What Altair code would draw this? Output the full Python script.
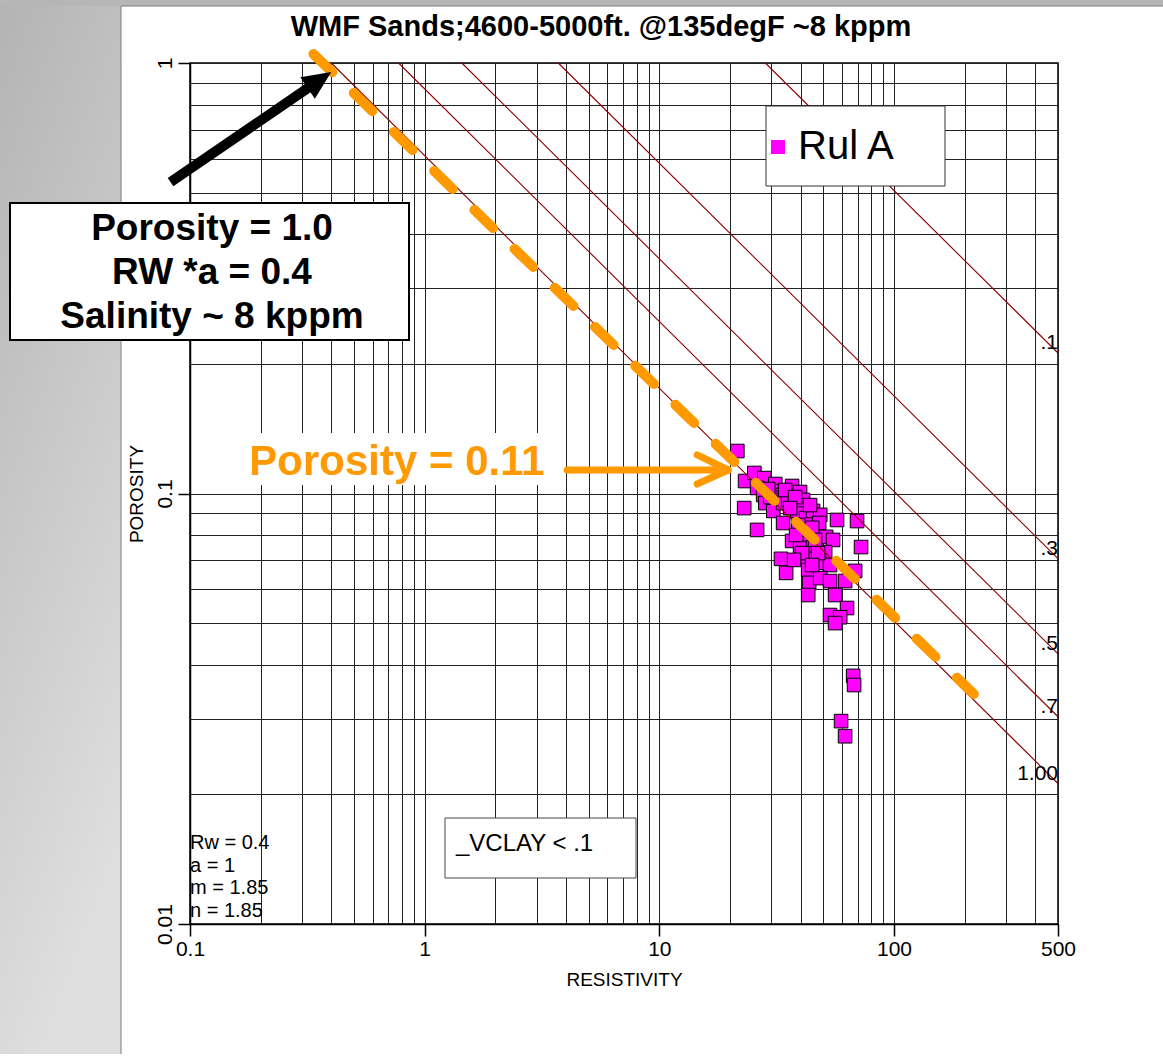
import altair as alt
import pandas as pd

FONT = "Liberation Sans"
ORANGE = "#FF9900"
MAGENTA = "#FF00FF"
SW_RED = "#8B0000"
GRID = "#222222"

# Plot area placement inside the 1163 x 1057 page
OX, OY = 190, 63
PLOT_W, PLOT_H = 868, 861

# Samples from zone "Rul A" with VCLAY < 0.1: resistivity (ohm.m) and porosity (v/v)
resistivity = [21.5, 23.2, 23.0, 26.1, 25.4, 28.0, 26.1, 27.7, 28.3, 31.2,
               31.5, 32.7, 30.6, 33.7, 33.7, 35.4, 36.8, 38.7, 39.8, 41.0,
               42.2, 45.2, 48.5, 48.0, 57.2, 69.6, 51.4, 55.0, 36.8, 42.7,
               72.4, 39.8, 45.2, 50.9, 33.0, 42.7, 34.7, 48.0, 43.1, 53.4,
               68.3, 43.5, 48.5, 53.4, 61.9, 43.1, 56.1, 63.1, 53.4, 59.0,
               56.1, 67.0, 67.6, 59.5, 61.9, 29.7, 34.4, 37.9, 36.1, 39.1,
               41.4, 44.8, 38.3, 46.1, 40.6, 47.5, 43.9, 29.1, 37.5, 44.8]
porosity = [0.1255, 0.1069, 0.0925, 0.0823, 0.1116, 0.1086, 0.1030, 0.0992, 0.0950, 0.1052,
            0.1013, 0.0992, 0.0911, 0.0950, 0.0854, 0.0966, 0.1041, 0.0911, 0.1008, 0.0966,
            0.0877, 0.0911, 0.0892, 0.0854, 0.0868, 0.0863, 0.0793, 0.0780, 0.0776, 0.0780,
            0.0751, 0.0747, 0.0751, 0.0731, 0.0705, 0.0705, 0.0654, 0.0690, 0.0664, 0.0682,
            0.0661, 0.0620, 0.0636, 0.0626, 0.0626, 0.0581, 0.0581, 0.0542, 0.0522, 0.0516,
            0.0500, 0.0377, 0.0359, 0.0296, 0.0273, 0.0981, 0.1019, 0.0981, 0.0925, 0.0845,
            0.0823, 0.0832, 0.0801, 0.0780, 0.0727, 0.0727, 0.0940, 0.1024, 0.0701, 0.0682]
zone = "Rul A"

# Water-saturation lines (Rw = 0.4, a = 1, m = n = 1.85): end points on the frame
sw_labels = ["1.00", ".7", ".5", ".3", ".1"]
sw_rt_at_phi_1 = [0.40, 0.774, 1.44, 3.71, 28.3]          # where porosity = 1
sw_phi_at_rt_500 = [0.0212, 0.0303, 0.0424, 0.0706, 0.212]  # where resistivity = 500
RT_RIGHT = 500

# Hand-drawn water line through the samples
trend_rt = [0.336, 219.0]
trend_phi = [1.049, 0.0342]

# Annotation arrows (data units)
black_arrow_rt = [0.0826, 0.355]
black_arrow_phi = [0.529, 0.911]
black_tip = (0.40, 0.953)
orange_tip = (19.65, 0.1134)
orange_tail_rt = 4.05
orange_barb_rt = 14.5
orange_barb_phi = [0.1229, 0.1052]

# Grid / tick values
x_grid = [0.1, 0.2, 0.3, 0.4, 0.5, 0.6, 0.7, 0.8, 0.9,
          1, 2, 3, 4, 5, 6, 7, 8, 9,
          10, 20, 30, 40, 50, 60, 70, 80, 90,
          100, 200, 300, 400, 500]
y_grid = [0.01, 0.02, 0.03, 0.04, 0.05, 0.06, 0.07, 0.08, 0.09,
          0.1, 0.2, 0.3, 0.4, 0.5, 0.6, 0.7, 0.8, 0.9, 1]
x_major = "indexof([0.1, 1, 10, 100, 500], datum.value) >= 0"
y_major = "indexof([0.01, 0.1, 1], datum.value) >= 0"

xs = alt.Scale(type="log", domain=[0.1, 500], nice=False)
ys = alt.Scale(type="log", domain=[0.01, 1], nice=False)

x_axis = alt.Axis(
    values=x_grid, title="RESISTIVITY", grid=True, gridColor=GRID, gridWidth=1,
    domainColor="black", domainWidth=1.5, tickColor="black", tickWidth=1.5, tickSize=12,
    tickOpacity={"condition": {"test": x_major, "value": 1}, "value": 0},
    labelExpr=f"{x_major} ? format(datum.value, '~g') : ''",
    labelPadding=2, labelFontSize=21, labelFont=FONT, labelColor="black",
    labelOverlap=False, labelFlush=False,
    titleFont=FONT, titleFontSize=19, titleFontWeight="normal", titleColor="black",
    titlePadding=11,
)
y_axis = alt.Axis(
    values=y_grid, title="POROSITY", grid=True, gridColor=GRID, gridWidth=1,
    domainColor="black", domainWidth=1.5, tickColor="black", tickWidth=1.5, tickSize=12,
    tickOpacity={"condition": {"test": y_major, "value": 1}, "value": 0},
    labelExpr=f"{y_major} ? format(datum.value, '~g') : ''",
    labelAngle=270, labelAlign="center", labelBaseline="bottom", labelPadding=3,
    labelFontSize=21, labelFont=FONT, labelColor="black",
    labelOverlap=False, labelFlush=False,
    titleFont=FONT, titleFontSize=19, titleFontWeight="normal", titleColor="black",
    titlePadding=8,
)

# Every data layer uses the same fields, scales and axes so the axes merge cleanly
X = alt.X("rt:Q", scale=xs, axis=x_axis)
Y = alt.Y("phi:Q", scale=ys, axis=y_axis)

one = pd.DataFrame({"k": [0]})


def px(x):
    return alt.value(x - OX)


def py(y):
    return alt.value(y - OY)


# ---- page chrome -----------------------------------------------------------
side_panel = alt.Chart(one).mark_rect(
    fill=alt.LinearGradient(
        gradient="linear",
        stops=[alt.GradientStop(color="#b3b3b3", offset=0),
               alt.GradientStop(color="#dedede", offset=1)],
        x1=0, y1=0, x2=0.3, y2=1,
    )
).encode(x=px(0), x2=px(121), y=py(0), y2=py(1060))

top_strip = alt.Chart(one).mark_rect(fill="#b6b6b6").encode(
    x=px(0), x2=px(1170), y=py(0), y2=py(6))

page_edge = alt.Chart(one).mark_rect(
    fillOpacity=0, stroke="#7f7f7f", strokeWidth=1
).encode(x=px(121), x2=px(1200), y=py(6), y2=py(1100))

title = alt.Chart(one).mark_text(
    text="WMF Sands;4600-5000ft. @135degF ~8 kppm", font=FONT, fontSize=29,
    fontWeight="bold", color="black", align="center", baseline="middle",
).encode(x=px(601), y=py(27))

# ---- data layers -----------------------------------------------------------
pts = pd.DataFrame({"rt": resistivity, "phi": porosity, "zone": zone})
points = alt.Chart(pts).mark_square(
    size=185, stroke="black", strokeWidth=1, opacity=1, fillOpacity=1
).encode(
    x=X, y=Y,
    color=alt.Color(
        "zone:N",
        scale=alt.Scale(domain=[zone], range=[MAGENTA]),
        legend=alt.Legend(
            orient="none", legendX=568, legendY=64, title=None,
            labelFont=FONT, labelFontSize=40, labelColor="black", labelOffset=0,
            symbolType="square", symbolSize=196, symbolStrokeWidth=0,
            symbolOpacity=1, padding=0,
        ),
    ),
)

sw_rows = []
for lab, rt0, phi_r in zip(sw_labels, sw_rt_at_phi_1, sw_phi_at_rt_500):
    sw_rows.append({"sw": lab, "rt": rt0, "phi": 1.0})
    sw_rows.append({"sw": lab, "rt": RT_RIGHT, "phi": phi_r})
sw_df = pd.DataFrame(sw_rows)

sw_lines = alt.Chart(sw_df).mark_line(color=SW_RED, strokeWidth=1.1).encode(
    x=X, y=Y, detail="sw:N",
)

sw_end = pd.DataFrame({"sw": sw_labels, "rt": [RT_RIGHT] * 5, "phi": sw_phi_at_rt_500})
sw_text = alt.Chart(sw_end).mark_text(
    font=FONT, fontSize=21, color="black", align="right", baseline="bottom", dy=0
).encode(x=X, y=Y, text="sw:N")

trend = alt.Chart(pd.DataFrame({"rt": trend_rt, "phi": trend_phi})).mark_line(
    color=ORANGE, strokeWidth=10, strokeDash=[26, 30], strokeCap="round"
).encode(x=X, y=Y)

# ---- boxes and annotations -------------------------------------------------
legend_box = alt.Chart(one).mark_rect(fill="white", stroke="#333333", strokeWidth=1).encode(
    x=px(766), x2=px(945), y=py(106), y2=py(186))

info_box = alt.Chart(one).mark_rect(fill="white", stroke="black", strokeWidth=2).encode(
    x=px(10), x2=px(409), y=py(203), y2=py(340))
info_text = alt.Chart(one).mark_text(
    text=["Porosity = 1.0", "RW *a = 0.4", "Salinity ~ 8 kppm"],
    font=FONT, fontSize=37, fontWeight="bold", color="black",
    align="center", baseline="middle", lineHeight=44,
).encode(x=px(212), y=py(229))

phi_backing = alt.Chart(one).mark_rect(fill="white").encode(
    x=px(245), x2=px(562), y=py(433), y2=py(485))
phi_text = alt.Chart(one).mark_text(
    text="Porosity = 0.11", font=FONT, fontSize=42, fontWeight="bold",
    color=ORANGE, align="center", baseline="middle",
).encode(x=px(397), y=py(462))

vclay_box = alt.Chart(one).mark_rect(fill="white", stroke="#444444", strokeWidth=1).encode(
    x=px(445), x2=px(636), y=py(818), y2=py(878))
vclay_text = alt.Chart(one).mark_text(
    text="_VCLAY < .1", font=FONT, fontSize=24, color="black",
    align="left", baseline="middle",
).encode(x=px(456), y=py(844))

params_text = alt.Chart(one).mark_text(
    text=["Rw = 0.4", "a = 1", "m = 1.85", "n = 1.85"],
    font=FONT, fontSize=20, color="black", align="left", baseline="middle",
    lineHeight=22.7,
).encode(x=px(190), y=py(843))

black_shaft = alt.Chart(
    pd.DataFrame({"rt": black_arrow_rt, "phi": black_arrow_phi})
).mark_line(color="black", strokeWidth=10, strokeCap="butt").encode(x=X, y=Y)

black_head = alt.Chart(
    pd.DataFrame({"rt": [black_tip[0]], "phi": [black_tip[1]]})
).mark_point(
    shape="M0,0L1,2.2L-1,2.2Z", size=676, angle=56, filled=True,
    fill="black", opacity=1, strokeWidth=0,
).encode(x=X, y=Y)

orange_rows = [
    {"seg": "shaft", "i": 0, "rt": orange_tail_rt, "phi": orange_tip[1]},
    {"seg": "shaft", "i": 1, "rt": orange_tip[0], "phi": orange_tip[1]},
    {"seg": "upper", "i": 0, "rt": orange_barb_rt, "phi": orange_barb_phi[0]},
    {"seg": "upper", "i": 1, "rt": orange_tip[0], "phi": orange_tip[1]},
    {"seg": "lower", "i": 0, "rt": orange_barb_rt, "phi": orange_barb_phi[1]},
    {"seg": "lower", "i": 1, "rt": orange_tip[0], "phi": orange_tip[1]},
]
orange_arrow = alt.Chart(pd.DataFrame(orange_rows)).mark_line(
    color=ORANGE, strokeWidth=7, strokeCap="round", strokeJoin="round"
).encode(x=X, y=Y, detail="seg:N", order="i:Q")

chart = alt.layer(
    side_panel, top_strip, page_edge,
    points, sw_lines, trend, sw_text,
    legend_box, info_box, info_text, phi_backing, phi_text,
    vclay_box, vclay_text, params_text,
    black_shaft, black_head, orange_arrow, title,
).properties(
    width=PLOT_W, height=PLOT_H,
    autosize=alt.AutoSizeParams(type="none"),
    padding={"left": OX, "top": OY, "right": 1163 - OX - PLOT_W, "bottom": 1054 - OY - PLOT_H},
    background="white",
).configure_view(stroke="black", strokeWidth=1.5)

chart.save("out.html", embed_options={"renderer": "svg", "actions": False})
